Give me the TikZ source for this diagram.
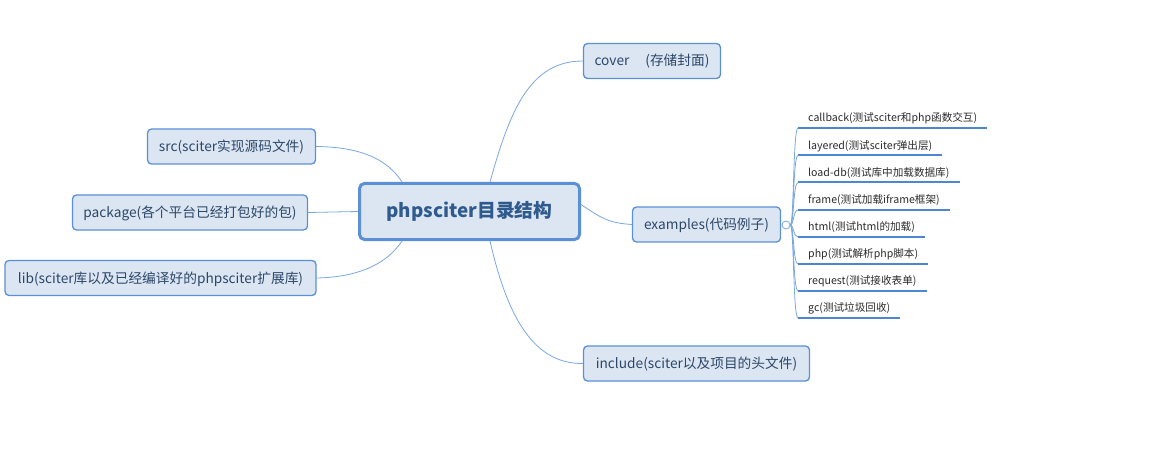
\documentclass[tikz,border=0pt]{standalone}
\usepackage{fontspec}
\setmainfont{Noto Sans CJK SC}
\definecolor{boxfill}{HTML}{DCE6F3}
\definecolor{boxline}{HTML}{5B8FD6}
\definecolor{conn}{HTML}{7AA6E2}
\definecolor{txt}{HTML}{2C4768}
\definecolor{ctxt}{HTML}{2F5A8E}
\definecolor{uline}{HTML}{4D86D2}
\definecolor{leaftxt}{HTML}{2A2A2A}
\tikzset{
  topic/.style={draw=boxline, line width=1.3pt, fill=boxfill, rounded corners=4pt,
    text=txt, font=\fontsize{13.7}{16}\selectfont, inner sep=0pt, align=center,
    text height=11pt, text depth=1pt},
  central/.style={draw=boxline, line width=3pt, fill=boxfill, rounded corners=5pt,
    text=ctxt, font=\fontsize{18.8}{22}\selectfont\bfseries, inner sep=0pt,
    minimum width=220pt, minimum height=56pt},
  leaf/.style={anchor=south west, inner xsep=10pt, inner ysep=3pt, text depth=3pt,
    text height=8pt, text=leaftxt, font=\fontsize{10.6}{12}\selectfont},
  link/.style={draw=conn, line width=0.8pt},
  under/.style={draw=uline, line width=2pt},
}
\begin{document}
\begin{tikzpicture}[x=1pt,y=-1pt]
\useasboundingbox (0,0) rectangle (1161,473);
% central
\node[central] (c) at (469.5,211.5) {phpsciter目录结构};
% topics
\node[topic, minimum width=137pt, minimum height=35pt] (cover) at (652,61) {cover\,　(存储封面)};
\node[topic, minimum width=168pt, minimum height=35pt] (src) at (231.5,146.5) {src(sciter实现源码文件)};
\node[topic, minimum width=235pt, minimum height=35pt] (pkg) at (190,212.5) {package(各个平台已经打包好的包)};
\node[topic, minimum width=311pt, minimum height=35pt] (lib) at (160.5,278) {lib(sciter库以及已经编译好的phpsciter扩展库)};
\node[topic, minimum width=148pt, minimum height=35pt] (ex) at (706.5,224.5) {examples(代码例子)};
\node[topic, minimum width=226pt, minimum height=35pt] (inc) at (696.5,363.5) {include(sciter以及项目的头文件)};
% connectors from central
\draw[link] (src.east) .. controls (362,147) and (388,160) .. ([xshift=44pt]c.north west);
\draw[link] (pkg.east) -- (c.west);
\draw[link] (lib.east) .. controls (362,277) and (388,262) .. ([xshift=44pt]c.south west);
\draw[link] ([xshift=132pt]c.north west) .. controls (510,110) and (530,61) .. (cover.west);
\draw[link] ([xshift=132pt]c.south west) .. controls (508,320) and (535,364) .. (inc.west);
\draw[link] ([yshift=7pt]c.east) .. controls (605,221) and (612,223) .. (ex.west);
% leaf hub
\node[draw=conn, line width=0.8pt, fill=white, circle, minimum size=8pt, inner sep=0pt] (hub) at (786,225) {};
\coordinate (trunk) at (793,0);
% leaves
\node[leaf] (l1) at (798,128) {callback(测试sciter和php函数交互)};
\node[leaf] (l2) at (798,155.5) {layered(测试sciter弹出层)};
\node[leaf] (l3) at (798,182.5) {load-db(测试库中加载数据库)};
\node[leaf] (l4) at (798,210) {frame(测试加载iframe框架)};
\node[leaf] (l5) at (798,237) {html(测试html的加载)};
\node[leaf] (l6) at (798,264) {php(测试解析php脚本)};
\node[leaf] (l7) at (798,291) {request(测试接收表单)};
\node[leaf] (l8) at (798,318) {gc(测试垃圾回收)};
\foreach \l in {l1,l2,l3,l4,l5,l6,l7,l8}{
  \draw[link] (hub.east) .. controls (794,225) and (trunk |- \l.south west) .. (\l.south west);
  \draw[under] (\l.south west) -- (\l.south east);
}
\end{tikzpicture}
\end{document}
